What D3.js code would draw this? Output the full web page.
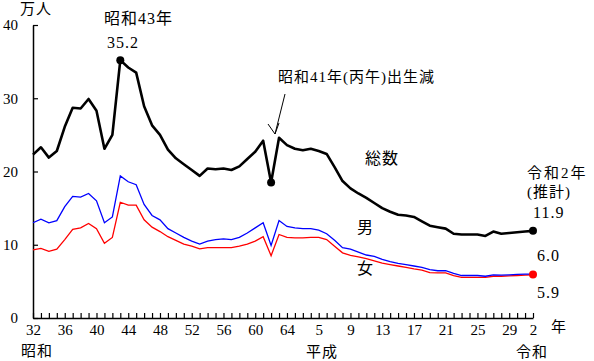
<!DOCTYPE html>
<html>
<head>
<meta charset="utf-8">
<script src="https://cdn.jsdelivr.net/npm/d3@7"></script>
<style>
  body { margin: 0; background: #fff; }
  svg text { font-family: "Liberation Serif", "Noto Sans CJK JP", serif; fill: #000; }
</style>
</head>
<body>
<div id="chart"></div>
<script>
// 新成人人口 (万人), 昭和32年 - 令和2年
var years = [1957,1958,1959,1960,1961,1962,1963,1964,1965,1966,
             1967,1968,1969,1970,1971,1972,1973,1974,1975,1976,
             1977,1978,1979,1980,1981,1982,1983,1984,1985,1986,
             1987,1988,1989,1990,1991,1992,1993,1994,1995,1996,
             1997,1998,1999,2000,2001,2002,2003,2004,2005,2006,
             2007,2008,2009,2010,2011,2012,2013,2014,2015,2016,
             2017,2018,2019,2020];

var total = [22.3,23.3,21.9,22.8,26.1,28.7,28.6,29.9,28.3,23.1,
             25.0,35.2,34.2,33.5,28.9,26.3,25.0,23.0,21.8,21.0,
             20.2,19.4,20.4,20.3,20.4,20.2,20.7,21.7,22.7,24.2,
             18.5,24.6,23.6,23.1,22.9,23.1,22.8,22.4,20.6,18.7,
             17.7,17.0,16.4,15.7,15.0,14.5,14.1,14.0,13.8,13.2,
             12.6,12.4,12.2,11.5,11.4,11.4,11.4,11.2,11.8,11.5,
             11.6,11.7,11.8,11.9];

var male = [13.0,13.5,13.0,13.3,15.2,16.6,16.5,17.0,16.0,13.0,
            13.8,19.4,18.6,18.2,15.5,14.0,13.4,12.2,11.6,11.0,
            10.5,10.1,10.5,10.7,10.8,10.7,11.0,11.6,12.3,13.0,
            9.9,13.3,12.5,12.3,12.2,12.2,12.0,11.5,10.6,9.6,
            9.4,9.0,8.6,8.4,8.0,7.7,7.45,7.3,7.1,6.9,
            6.6,6.45,6.45,6.1,5.8,5.8,5.8,5.7,5.9,5.85,
            5.9,5.95,6.0,6.0];

var female = [9.3,9.5,9.1,9.4,10.7,12.1,12.3,12.9,12.2,10.2,
              11.0,15.8,15.4,15.4,13.4,12.4,11.8,11.1,10.6,10.1,
              9.8,9.45,9.6,9.6,9.6,9.6,9.8,10.1,10.5,11.1,
              8.5,11.4,11.0,10.95,10.95,11.0,11.0,10.7,9.8,8.9,
              8.55,8.35,8.1,7.8,7.5,7.3,7.1,6.9,6.7,6.55,
              6.2,6.15,6.15,5.8,5.55,5.55,5.55,5.55,5.7,5.7,
              5.75,5.8,5.85,5.9];

var tickYears  = [1957,1961,1965,1969,1973,1977,1981,1985,1989,1993,1997,2001,2005,2009,2013,2017,2020];
var tickLabels = ["32","36","40","44","48","52","56","60","64","5","9","13","17","21","25","29","2"];
var yTicks = [0,10,20,30,40];

var width = 594,
    height = 361,
    plotLeft = 33,
    plotRight = 533,
    plotTop = 25,
    plotBottom = 318;

var svg = d3.select('#chart')
  .append('svg')
  .attr('width', width)
  .attr('height', height);

var x = d3.scaleLinear().domain([1957, 2020]).range([plotLeft, plotRight]);
var y = d3.scaleLinear().domain([0, 40]).range([plotBottom, plotTop]);

// axes
var xAxis = d3.axisBottom(x)
  .tickValues(years)
  .tickSize(-5)
  .tickSizeOuter(0)
  .tickPadding(6)
  .tickFormat(function(d) {
    var i = tickYears.indexOf(d);
    return i < 0 ? '' : tickLabels[i];
  });

var gx = svg.append('g')
  .attr('transform', 'translate(0,' + plotBottom + ')')
  .call(xAxis);
gx.selectAll('text').style('font-size', '15px');

var yAxis = d3.axisLeft(y)
  .tickValues(yTicks)
  .tickSize(-5)
  .tickSizeOuter(0)
  .tickPadding(15);

var gy = svg.append('g')
  .attr('transform', 'translate(' + plotLeft + ',0)')
  .call(yAxis);
gy.selectAll('text').style('font-size', '15px');

svg.selectAll('.domain').attr('stroke', '#000').attr('stroke-width', 1.5);
svg.selectAll('.tick line').attr('stroke', '#000').attr('stroke-width', 1.2);

// lines
var line = d3.line()
  .x(function(d, i) { return x(years[i]); })
  .y(function(d) { return y(d); });

svg.append('path').datum(female)
  .attr('d', line).attr('fill', 'none')
  .attr('stroke', '#ff0000').attr('stroke-width', 1.3);

svg.append('path').datum(male)
  .attr('d', line).attr('fill', 'none')
  .attr('stroke', '#0000ff').attr('stroke-width', 1.3);

svg.append('path').datum(total)
  .attr('d', line).attr('fill', 'none')
  .attr('stroke', '#000').attr('stroke-width', 2.6)
  .attr('stroke-linejoin', 'round');

// markers
var dotIdx = [years.indexOf(1968), years.indexOf(1987), years.indexOf(2020)];
svg.selectAll('circle.tot')
  .data(dotIdx)
  .enter()
  .append('circle')
  .attr('cx', function(i) { return x(years[i]); })
  .attr('cy', function(i) { return y(total[i]); })
  .attr('r', 4)
  .attr('fill', '#000');

var last = years.length - 1;
svg.append('circle')
  .attr('cx', x(years[last]))
  .attr('cy', y((male[last] + female[last]) / 2))
  .attr('r', 4)
  .attr('fill', '#ff0000');

// texts
function label(t, tx, ty, size, spacing) {
  svg.append('text')
    .attr('x', tx).attr('y', ty)
    .attr('dominant-baseline', 'central')
    .style('font-size', (size || 15) + 'px')
    .style('letter-spacing', (spacing || 0) + 'px')
    .text(t);
}

label('万人', 20, 9, 15, 1);
label('年', 551, 327);
label('昭和', 21, 351, 15, 1);
label('平成', 306, 352, 15, 1);
label('令和', 516, 352, 15, 1);

label('昭和43年', 104, 18, 16, 1);
label('35.2', 107, 42, 16, 1);

label('昭和41年(丙午)出生減', 278, 77, 15, 1);
svg.append('line')
  .attr('x1', 285).attr('y1', 94)
  .attr('x2', 275).attr('y2', 134)
  .attr('stroke', '#000').attr('stroke-width', 1);
svg.append('path')
  .attr('d', 'M268,124 L275,134 L279,123')
  .attr('fill', 'none').attr('stroke', '#000').attr('stroke-width', 1);

label('総数', 365, 158, 16, 1);
label('男', 357, 227, 16);
label('女', 357, 268, 16);

label('令和2年', 527, 173, 15, 2);
label('(推計)', 527, 192, 15, 1);
label('11.9', 533, 212, 16, 1);
label('6.0', 537, 255, 16, 1);
label('5.9', 537, 292, 16, 1);
</script>
</body>
</html>
